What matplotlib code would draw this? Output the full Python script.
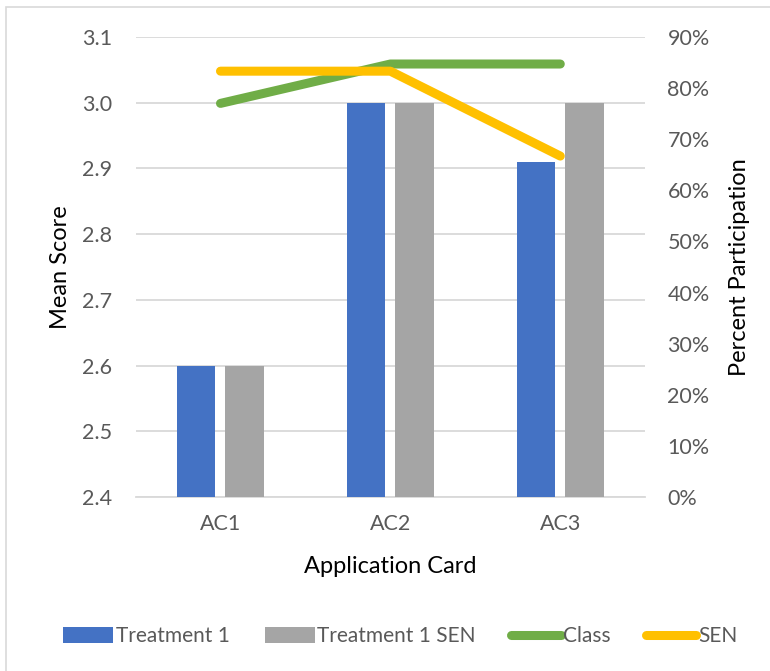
import numpy as np
import matplotlib.pyplot as plt
from matplotlib.patches import Rectangle
from matplotlib.ticker import PercentFormatter

plt.rcParams['font.family'] = ['Lato', 'DejaVu Sans']

cards = ['AC1', 'AC2', 'AC3']
treatment1 = [2.6, 3.0, 2.91]
treatment1_sen = [2.6, 3.0, 3.0]
class_part = [0.77, 0.847, 0.847]
sen_part = [0.833, 0.833, 0.667]

blue = '#4472C4'
grey = '#A5A5A5'
green = '#70AD47'
gold = '#FFC000'
tick_col = '#595959'

fig = plt.figure(figsize=(7.7, 6.71), dpi=100)
ax = fig.add_axes([0.176, 0.259, 0.662, 0.686])
ax2 = ax.twinx()

x = np.arange(len(cards))
w = 0.225
off = 0.142
ax.bar(x - off, np.array(treatment1) - 2.4, w, bottom=2.4, color=blue, label='Treatment 1', zorder=3)
ax.bar(x + off, np.array(treatment1_sen) - 2.4, w, bottom=2.4, color=grey, label='Treatment 1 SEN', zorder=3)

ax2.plot(x, class_part, color=green, lw=6.5, solid_capstyle='round', solid_joinstyle='round', label='Class')
ax2.plot(x, sen_part, color=gold, lw=6.5, solid_capstyle='round', solid_joinstyle='round', label='SEN')

ax.set_xlim(-0.5, 2.5)
ax.set_ylim(2.4, 3.1)
ax.set_yticks(np.arange(2.4, 3.11, 0.1))
ax.yaxis.set_major_formatter(lambda v, p: f'{v:.1f}')
ax2.set_ylim(0, 0.9)
ax2.set_yticks(np.arange(0, 0.91, 0.1))
ax2.yaxis.set_major_formatter(PercentFormatter(1.0, decimals=0))

ax.set_xticks(x)
ax.set_xticklabels(cards)
ax.grid(axis='y', color='#D9D9D9', lw=1.3, zorder=0)
ax.set_axisbelow(True)

for a in (ax, ax2):
    for s in a.spines.values():
        s.set_visible(False)
    a.tick_params(length=0, labelsize=15.5, labelcolor=tick_col)
ax.spines['bottom'].set_visible(True)
ax.spines['bottom'].set_color('#D9D9D9')
ax.spines['bottom'].set_linewidth(1.3)
ax.tick_params(axis='y', pad=17)
ax.tick_params(axis='x', pad=12)
ax2.tick_params(axis='y', pad=16)

ax.set_ylabel('Mean Score', fontsize=17, labelpad=8)
ax2.set_ylabel('Percent Participation', fontsize=17, labelpad=14)
ax.set_xlabel('Application Card', fontsize=17, labelpad=16)

h1, l1 = ax.get_legend_handles_labels()
h2, l2 = ax2.get_legend_handles_labels()
fig.legend(h1 + h2, l1 + l2, loc='center', bbox_to_anchor=(0.52, 0.052), ncol=4,
           frameon=False, fontsize=15, labelcolor=tick_col, handlelength=2.4,
           handleheight=0.8, handletextpad=0.1, columnspacing=1.7)

# light chart border
fig.patches.append(Rectangle((6 / 770, -0.1), 1.2, 1.1 - 7 / 671, transform=fig.transFigure,
                             fill=False, edgecolor='#D9D9D9', lw=1.2))

fig.savefig('out.png', dpi=100)
